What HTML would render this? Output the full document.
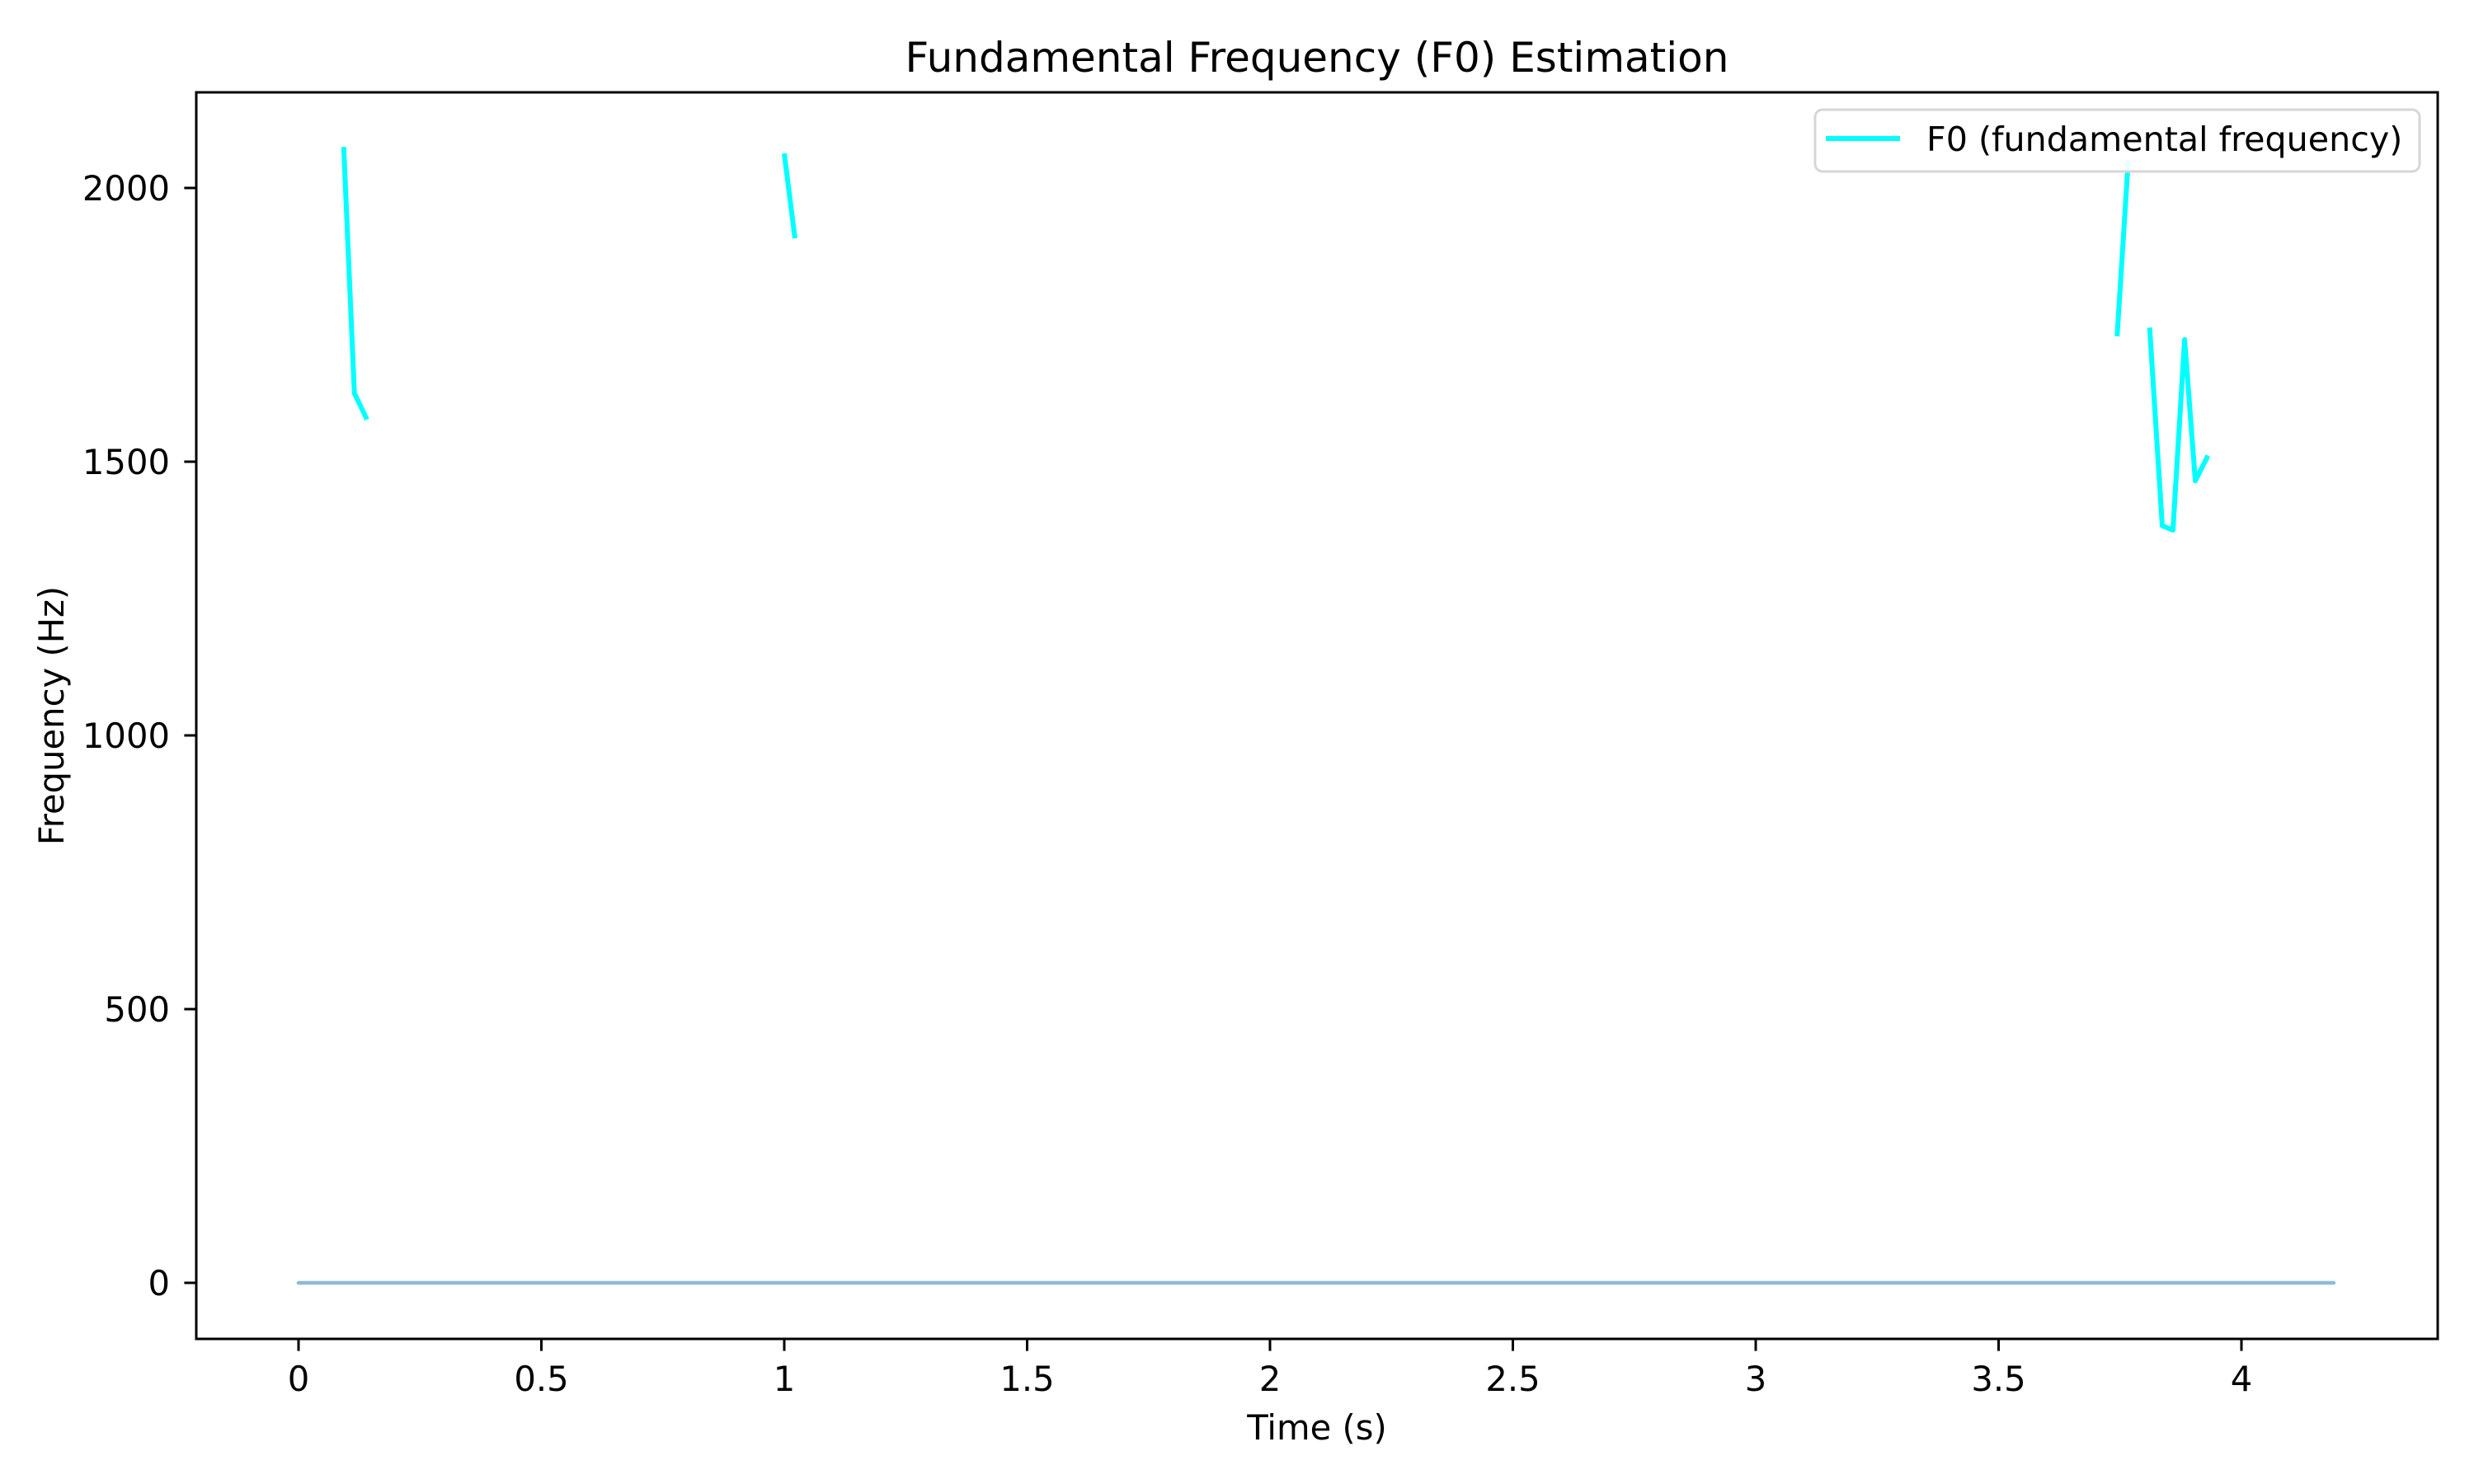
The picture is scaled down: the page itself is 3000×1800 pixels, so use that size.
<!DOCTYPE html>
<html><head><meta charset="utf-8"><style>
html,body{margin:0;padding:0;background:#fff}
svg{display:block;font-family:"DejaVu Sans","Liberation Sans",sans-serif}
</style></head><body>
<svg id="chart" width="3000" height="1800" viewBox="0 0 3000 1800">
<rect x="0" y="0" width="3000" height="1800" fill="#fff"/>
<text x="1597" y="87" font-size="50" text-anchor="middle">Fundamental Frequency (F0) Estimation</text>
<g id="plot"></g>
<g id="axes"></g>
<text x="1597" y="1746" font-size="41.7" text-anchor="middle">Time (s)</text>
<text x="0" y="0" font-size="41.7" text-anchor="middle" transform="translate(77,868) rotate(-90)">Frequency (Hz)</text>
<g>
<rect x="2201" y="133" width="733" height="75" rx="9" fill="#fff" fill-opacity="0.9" stroke="#d6d6d6" stroke-width="3"/>
<line x1="2214" y1="168" x2="2304" y2="168" stroke="#00ffff" stroke-width="6"/>
<text x="2336" y="183" font-size="41.2">F0 (fundamental frequency)</text>
</g>
</svg>
<script>
const segTimes = [[0.093,0.115,0.141],[1.000,1.022],[3.744,3.767],[3.811,3.837,3.859,3.883,3.905,3.931]];
const segFreqs = [[2075,1625,1577],[2063,1908],[1729,2050],[1745,1383,1375,1723,1465,1511]];
const zeroLineTimes = [0, 4.19];
const zeroLineValues = [0, 0];
const xTicks = [0,0.5,1,1.5,2,2.5,3,3.5,4];
const xTickLabels = ["0","0.5","1","1.5","2","2.5","3","3.5","4"];
const yTicks = [0,500,1000,1500,2000];
const yTickLabels = ["0","500","1000","1500","2000"];

const L=238,R=2956,T=112,B=1624;
function xs(t){return 362 + t*589;}
function ys(f){return 1556 - f*0.664;}
const NS="http://www.w3.org/2000/svg";
const plot=document.getElementById('plot');
const axes=document.getElementById('axes');
function mk(tag,attrs,parent){const e=document.createElementNS(NS,tag);for(const k in attrs)e.setAttribute(k,attrs[k]);parent.appendChild(e);return e;}

{
  const pts=zeroLineTimes.map((t,i)=>xs(t)+','+ys(zeroLineValues[i])).join(' ');
  const el=mk('polyline',{points:pts,fill:'none',stroke:'#8cbbdc','stroke-width':4.5,'stroke-linecap':'round'},plot);
  
  
}
segTimes.forEach((ts,si)=>{
  const pts=ts.map((t,i)=>xs(t)+','+ys(segFreqs[si][i])).join(' ');
  const el=mk('polyline',{points:pts,fill:'none',stroke:'#00ffff','stroke-width':6,'stroke-linejoin':'round'},plot);
  
  
});
{
  const el=mk('rect',{x:L,y:T,width:R-L,height:B-T,fill:'none',stroke:'#000','stroke-width':3},axes);
  
  
}
xTicks.forEach((v,i)=>{
  const x=xs(v);
  const tk=mk('line',{x1:x,y1:B,x2:x,y2:B+14.6,stroke:'#000','stroke-width':3},axes);
  
  
  const tx=mk('text',{x:x,y:1687,'font-size':41.7,'text-anchor':'middle'},axes);
  tx.textContent=xTickLabels[i];
  
  
});
yTicks.forEach((v,i)=>{
  const y=ys(v);
  const tk=mk('line',{x1:L-14.6,y1:y,x2:L,y2:y,stroke:'#000','stroke-width':3},axes);
  
  
  const tx=mk('text',{x:206,y:y+15,'font-size':41.7,'text-anchor':'end'},axes);
  tx.textContent=yTickLabels[i];
  
  
});
</script>
</body></html>
